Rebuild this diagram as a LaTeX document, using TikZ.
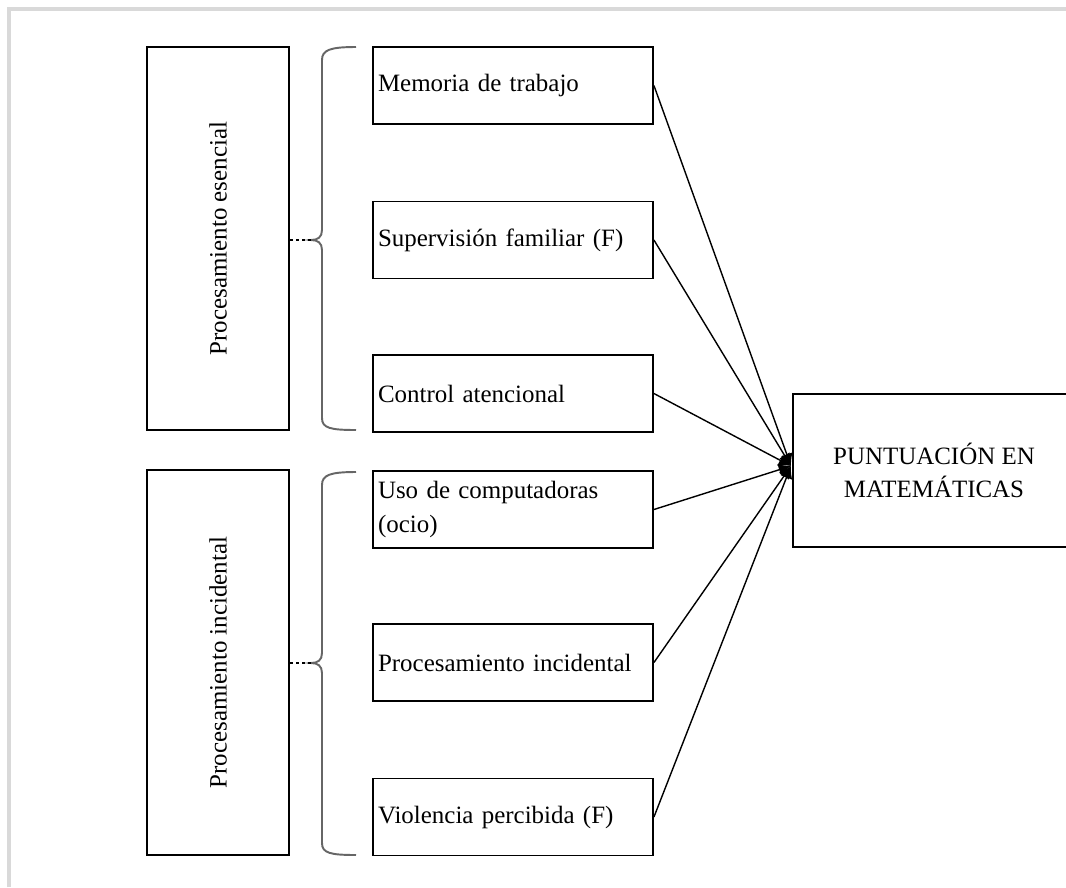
\documentclass[tikz,border=0pt]{standalone}
\usepackage{fontspec}
\setmainfont{Liberation Serif}
\usetikzlibrary{arrows.meta}

\begin{document}
\begin{tikzpicture}[x=0.02cm,y=-0.02cm,
    font=\fontsize{14.2}{19}\selectfont,
    grupo/.style={draw=black,line width=1.1pt,minimum width=2.84cm,inner sep=0pt},
    factor/.style={draw=black,line width=1.1pt,minimum width=5.6cm,minimum height=1.54cm,
        text width=5.4cm,inner xsep=0.1cm,align=left},
    enlace/.style={line width=0.8pt,-{Latex[length=7pt,width=7pt]}},
    llave/.style={draw=black!60,line width=1.1pt}]
    \useasboundingbox (0,0) rectangle (1066,887);
    % marco gris
    \draw[black!15,line width=2pt] (9,887) -- (9,9) -- (1066,9);

    \node[grupo,minimum height=7.66cm] (esen) at (218,238.5) {};
    \node[rotate=90] at (esen.center) {Procesamiento esencial};
    \node[grupo,minimum height=7.7cm] (inci) at (218,662.5) {};
    \node[rotate=90] at (inci.center) {Procesamiento incidental};

    \node[factor] (f1) at (513,85.5) {Memoria de trabajo};
    \node[factor] (f2) at (513,240) {Supervisión familiar (F)};
    \node[factor] (f3) at (513,393.5) {Control atencional};
    \node[factor] (f4) at (513,509.5) {Uso de computadoras\\(ocio)};
    \node[factor] (f5) at (513,662.5) {Procesamiento incidental};
    \node[factor] (f6) at (513,817) {Violencia percibida (F)};

    \node[draw=black,line width=1.1pt,minimum width=5.64cm,minimum height=3.06cm,align=center]
        (punt) at (934,470.5) {PUNTUACIÓN EN\\MATEMÁTICAS};
    \coordinate (hub) at (791,466);

    % llaves
    \coordinate (p1) at (311,240);
    \coordinate (p2) at (311,663);
    \draw[llave] (356,47) .. controls (330,47) and (322,50) .. (322,60) -- (322,230)
        .. controls (322,237) and (318,240) .. (p1) .. controls (318,240) and (322,243) .. (322,250)
        -- (322,418) .. controls (322,428) and (330,430) .. (356,430);
    \draw[llave] (356,472) .. controls (330,472) and (322,475) .. (322,485) -- (322,653)
        .. controls (322,660) and (318,663) .. (p2) .. controls (318,663) and (322,666) .. (322,673)
        -- (322,843) .. controls (322,853) and (330,855) .. (356,855);
    \draw[dotted,line width=1.5pt] (esen.east |- p1) -- (p1);
    \draw[dotted,line width=1.5pt] (inci.east |- p2) -- (p2);

    \foreach \f in {f1,f2,f3,f4,f5,f6}
        \draw[enlace] (\f.east) -- (hub);
\end{tikzpicture}
\end{document}
